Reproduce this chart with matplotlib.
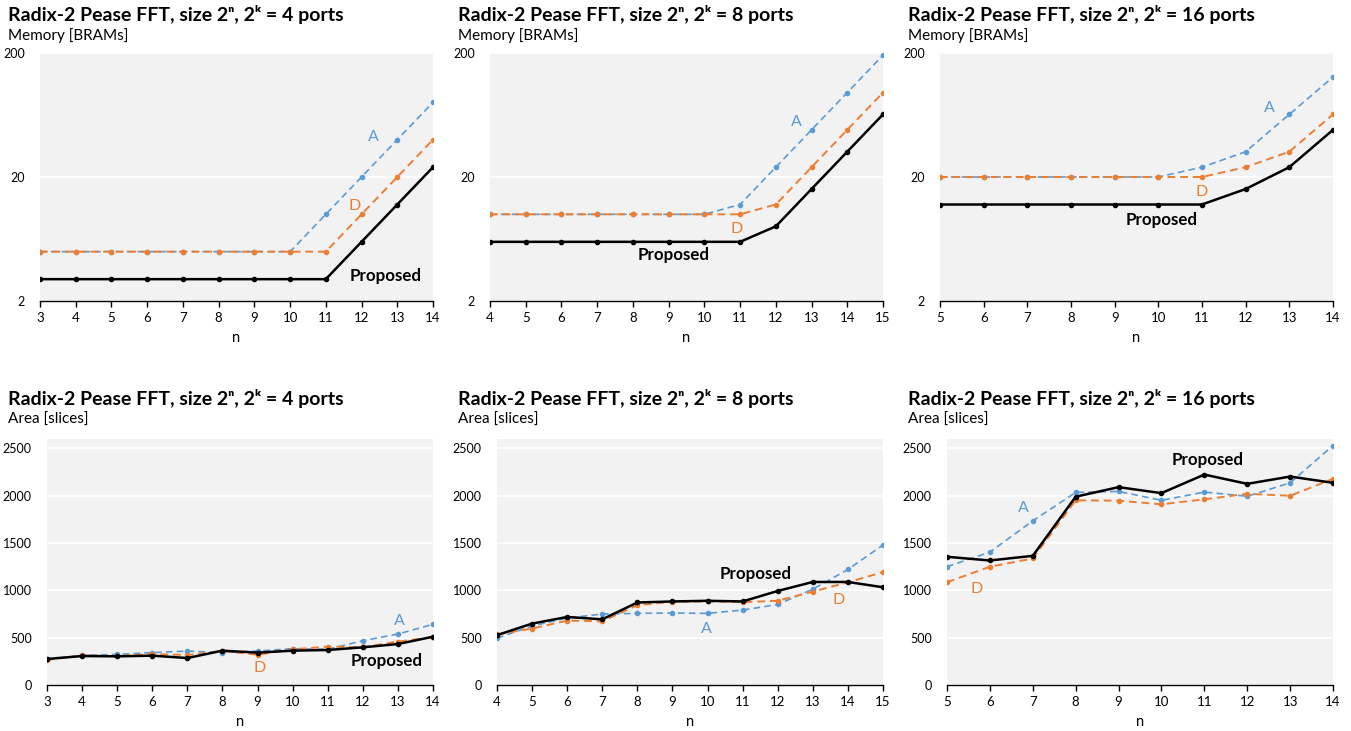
import matplotlib.pyplot as plt
from matplotlib.ticker import NullLocator, FixedLocator, FixedFormatter

plt.rcParams['font.family'] = ['Lato', 'DejaVu Sans']

BLUE = '#5b9bd5'
ORANGE = '#ed7d31'
BG = '#f2f2f2'

# ---- data: memory [BRAMs] (log scale) ----
n_mem_4 = list(range(3, 15))
mem_prop_4 = [3, 3, 3, 3, 3, 3, 3, 3, 3, 6, 12, 24]
mem_d_4 = [5, 5, 5, 5, 5, 5, 5, 5, 5, 10, 20, 40]
mem_a_4 = [5, 5, 5, 5, 5, 5, 5, 5, 10, 20, 40, 80]

n_mem_8 = list(range(4, 16))
mem_prop_8 = [6, 6, 6, 6, 6, 6, 6, 6, 8, 16, 32, 64]
mem_d_8 = [10, 10, 10, 10, 10, 10, 10, 10, 12, 24, 48, 96]
mem_a_8 = [10, 10, 10, 10, 10, 10, 10, 12, 24, 48, 96, 192]

n_mem_16 = list(range(5, 15))
mem_prop_16 = [12, 12, 12, 12, 12, 12, 12, 16, 24, 48]
mem_d_16 = [20, 20, 20, 20, 20, 20, 20, 24, 32, 64]
mem_a_16 = [20, 20, 20, 20, 20, 20, 24, 32, 64, 128]

# ---- data: area [slices] ----
area_prop_4 = [275, 306, 303, 310, 285, 363, 342, 363, 370, 398, 433, 510]
area_d_4 = [264, 313, 306, 327, 317, 359, 320, 377, 405, 401, 458, 507]
area_a_4 = [271, 313, 324, 342, 359, 342, 359, 384, 377, 468, 539, 641]

area_prop_8 = [527, 649, 719, 694, 872, 883, 890, 883, 994, 1089, 1089, 1033]
area_d_8 = [534, 597, 680, 673, 844, 879, 883, 876, 890, 987, 1085, 1193]
area_a_8 = [495, 624, 708, 750, 757, 761, 757, 792, 851, 1012, 1221, 1479]

area_prop_16 = [1355, 1316, 1365, 1990, 2091, 2028, 2224, 2126, 2203, 2137]
area_d_16 = [1086, 1250, 1337, 1952, 1948, 1910, 1962, 2021, 2000, 2179]
area_a_16 = [1250, 1404, 1735, 2035, 2046, 1952, 2039, 1994, 2137, 2531]

ports = [4, 8, 16]

W, H = 1351, 731
fig = plt.figure(figsize=(W / 100, H / 100), dpi=100)


def px_axes(left, top, right, bottom):
    return fig.add_axes([left / W, 1 - bottom / H, (right - left) / W, (bottom - top) / H])


def style(ax, n):
    ax.set_facecolor(BG)
    for s in ['top', 'right', 'left']:
        ax.spines[s].set_visible(False)
    ax.spines['bottom'].set_color('black')
    ax.spines['bottom'].set_linewidth(1.0)
    ax.set_xlim(n[0], n[-1])
    ax.set_xticks(n)
    ax.tick_params(axis='x', direction='out', length=4, width=1, labelsize=9.5, pad=4)
    ax.tick_params(axis='y', length=0, labelsize=9, pad=11)
    ax.grid(axis='y', color='white', lw=1.2)
    ax.set_axisbelow(True)
    ax.set_xlabel('n', fontsize=10.5, labelpad=5)


def draw(ax, n, a, d, p):
    ax.plot(n, a, color=BLUE, ls='--', lw=1.2, marker='o', ms=3, dashes=(4, 2.5), zorder=3)
    ax.plot(n, d, color=ORANGE, ls='--', lw=1.4, marker='o', ms=3, dashes=(4, 2.5), zorder=4)
    ax.plot(n, p, color='black', lw=1.8, marker='o', ms=3, zorder=5)


mem_sets = [(n_mem_4, mem_a_4, mem_d_4, mem_prop_4),
            (n_mem_8, mem_a_8, mem_d_8, mem_prop_8),
            (n_mem_16, mem_a_16, mem_d_16, mem_prop_16)]
area_sets = [(n_mem_4, area_a_4, area_d_4, area_prop_4),
             (n_mem_8, area_a_8, area_d_8, area_prop_8),
             (n_mem_16, area_a_16, area_d_16, area_prop_16)]

# label positions (data coords): A, D, Proposed
mem_labels = [((12.32, 42), (11.8, 11.7), (12.66, 3.2)),
              ((12.57, 56), (10.89, 7.6), (9.15, 4.7)),
              ((12.55, 72), (10.98, 15.2), (10.08, 9.0))]
area_labels = [((13.05, 680), (9.06, 176), (12.67, 257)),
               ((9.98, 593), (13.73, 897), (11.36, 1176)),
               ((6.79, 1875), (5.70, 1019), (11.08, 2380))]

col_left = [40, 490, 940]
col_left_b = [47, 497, 947]
col_text = [8, 458, 908]

for i in range(3):
    # memory panel
    ax = px_axes(col_left[i], 53, col_left[i] + 393, 301)
    n, a, d, p = mem_sets[i]
    draw(ax, n, a, d, p)
    ax.set_yscale('log')
    ax.set_ylim(2, 200)
    ax.yaxis.set_major_locator(FixedLocator([2, 20, 200]))
    ax.yaxis.set_major_formatter(FixedFormatter(['2', '20', '200']))
    ax.yaxis.set_minor_locator(NullLocator())
    style(ax, n)
    (ax_, ay_), (dx_, dy_), (px_, py_) = mem_labels[i]
    ax.text(ax_, ay_, 'A', color=BLUE, fontsize=11.5, ha='center', va='center')
    ax.text(dx_, dy_, 'D', color=ORANGE, fontsize=11.5, ha='center', va='center')
    ax.text(px_, py_, 'Proposed', color='black', fontsize=12.2, fontweight='bold', ha='center', va='center')
    fig.text(col_text[i] / W, 1 - 15 / H,
             f'Radix-2 Pease FFT, size 2\u207f, 2\u1d4f = {ports[i]} ports',
             fontsize=14, fontweight='bold', ha='left', va='center')
    fig.text(col_text[i] / W, 1 - 36 / H, 'Memory [BRAMs]', fontsize=11, ha='left', va='center')

    # area panel
    ax = px_axes(col_left_b[i], 439, col_left[i] + 393, 685)
    n, a, d, p = area_sets[i]
    draw(ax, n, a, d, p)
    ax.set_ylim(0, 2600)
    ax.set_yticks([0, 500, 1000, 1500, 2000, 2500])
    style(ax, n)
    (ax_, ay_), (dx_, dy_), (px_, py_) = area_labels[i]
    ax.text(ax_, ay_, 'A', color=BLUE, fontsize=11.5, ha='center', va='center')
    ax.text(dx_, dy_, 'D', color=ORANGE, fontsize=11.5, ha='center', va='center')
    ax.text(px_, py_, 'Proposed', color='black', fontsize=12.2, fontweight='bold', ha='center', va='center')
    fig.text(col_text[i] / W, 1 - 399 / H,
             f'Radix-2 Pease FFT, size 2\u207f, 2\u1d4f = {ports[i]} ports',
             fontsize=14, fontweight='bold', ha='left', va='center')
    fig.text(col_text[i] / W, 1 - 420 / H, 'Area [slices]', fontsize=11, ha='left', va='center')

fig.savefig('out.png', dpi=100)
